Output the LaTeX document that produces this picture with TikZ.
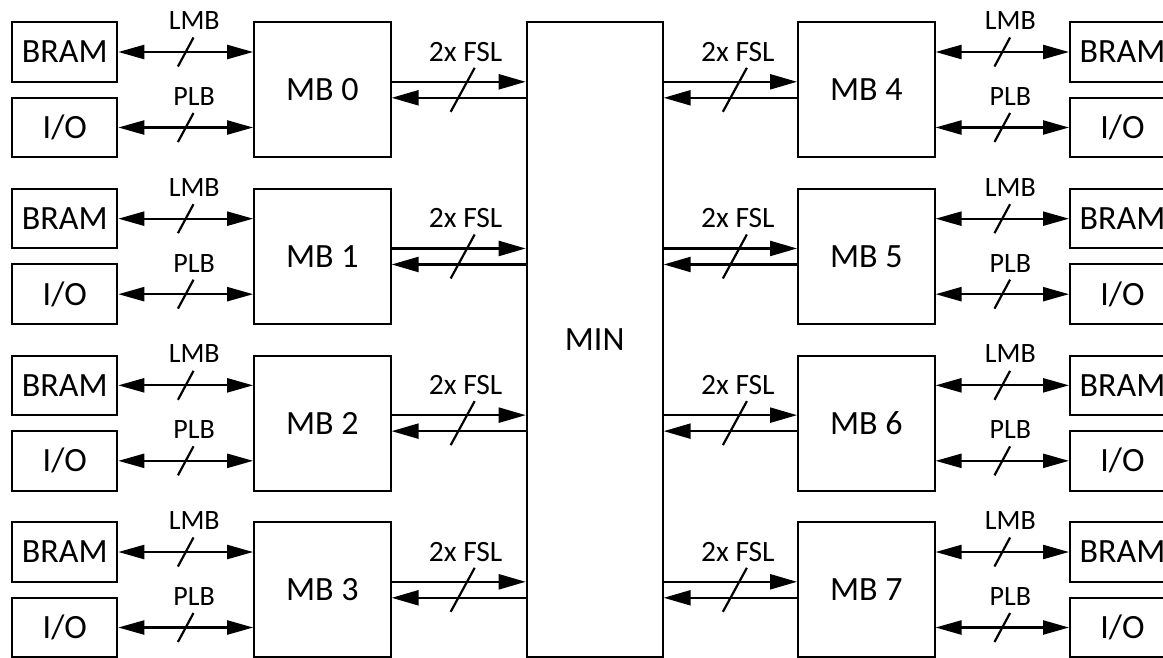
\documentclass[tikz,border=0pt]{standalone}
\usepackage{fontspec}
\setmainfont{Carlito}
\usetikzlibrary{arrows.meta,calc}
\begin{document}
\begin{tikzpicture}[x=1pt,y=-1pt,
  btext/.style={font=\fontsize{34}{34}\selectfont},
  sbox/.style={draw,line width=2pt,inner sep=0pt,minimum width=105pt,minimum height=59.5pt,btext},
  mbox/.style={draw,line width=2pt,inner sep=0pt,minimum width=136.5pt,minimum height=135pt,btext},
  bi/.style={line width=2.3pt,{Triangle[length=26pt,width=14pt]}-{Triangle[length=26pt,width=14pt]}},
  uni/.style={line width=2.3pt,-{Triangle[length=27pt,width=15pt]}},
  slash/.style={line width=2.2pt},
  lab/.style={font=\fontsize{28}{28}\selectfont,inner sep=0pt},
  flab/.style={font=\fontsize{29.5}{29.5}\selectfont,inner sep=0pt}]
\useasboundingbox (0,0) rectangle (1163,657);
\clip (0,0) rectangle (1163,657);
\node[draw,line width=2pt,inner sep=0pt,minimum width=136pt,minimum height=635pt,btext] (min) at (594.7,339.8) {MIN};
\foreach \r in {0,...,3} {
  \pgfmathsetmacro\dy{166.667*\r}
  \pgfmathtruncatemacro\rr{\r+4}
  % left side
  \node[sbox] (lb\r) at (64.8,52+\dy) {BRAM};
  \node[sbox] (li\r) at (64.8,127.5+\dy) {I/O};
  \node[mbox] (ml\r) at (322.4,89.8+\dy) {MB \r};
  % right side
  \node[mbox] (mr\r) at (866.3,89.8+\dy) {MB \rr};
  \node[sbox] (rb\r) at (1122.5,52+\dy) {BRAM};
  \node[sbox] (ri\r) at (1122.5,127.5+\dy) {I/O};
  % LMB / PLB left
  \draw[bi] (lb\r.east) -- (lb\r.east -| ml\r.west) coordinate[pos=0.5] (lbm\r);
  \draw[slash] (lbm\r) +(-7.8,14.5) -- +(7.8,-14.5);
  \node[lab] at ($(lbm\r)+(8.5,-31.5)$) {LMB};
  \draw[bi] (li\r.east) -- (li\r.east -| ml\r.west) coordinate[pos=0.5] (lim\r);
  \draw[slash] (lim\r) +(-7.8,14.5) -- +(7.8,-14.5);
  \node[lab] at ($(lim\r)+(8.5,-31)$) {PLB};
  % LMB / PLB right
  \draw[bi] (mr\r.east |- rb\r.west) -- (rb\r.west) coordinate[pos=0.5] (rbm\r);
  \draw[slash] (rbm\r) +(-7.8,14.5) -- +(7.8,-14.5);
  \node[lab] at ($(rbm\r)+(8,-31.5)$) {LMB};
  \draw[bi] (mr\r.east |- ri\r.west) -- (ri\r.west) coordinate[pos=0.5] (rim\r);
  \draw[slash] (rim\r) +(-7.8,14.5) -- +(7.8,-14.5);
  \node[lab] at ($(rim\r)+(8,-31)$) {PLB};
  % FSL left
  \draw[uni] ([yshift=8pt]ml\r.east) -- ([yshift=8pt]ml\r.east -| min.west);
  \draw[uni] ([yshift=-8pt]ml\r.east -| min.west) -- ([yshift=-8pt]ml\r.east);
  \coordinate (fl\r) at ($(ml\r.east)!0.5!(ml\r.east -| min.west)$);
  \draw[slash] (fl\r) ++(4,0) +(-12,22) -- +(12,-22);
  \node[flab] at ($(fl\r)+(7,-38)$) {2x FSL};
  % FSL right
  \draw[uni] ([yshift=8pt]mr\r.west -| min.east) -- ([yshift=8pt]mr\r.west);
  \draw[uni] ([yshift=-8pt]mr\r.west) -- ([yshift=-8pt]mr\r.west -| min.east);
  \coordinate (fr\r) at ($(mr\r.west)!0.5!(mr\r.west -| min.east)$);
  \draw[slash] (fr\r) ++(4.5,0) +(-12,22) -- +(12,-22);
  \node[flab] at ($(fr\r)+(7.5,-38)$) {2x FSL};
}
\end{tikzpicture}
\end{document}
